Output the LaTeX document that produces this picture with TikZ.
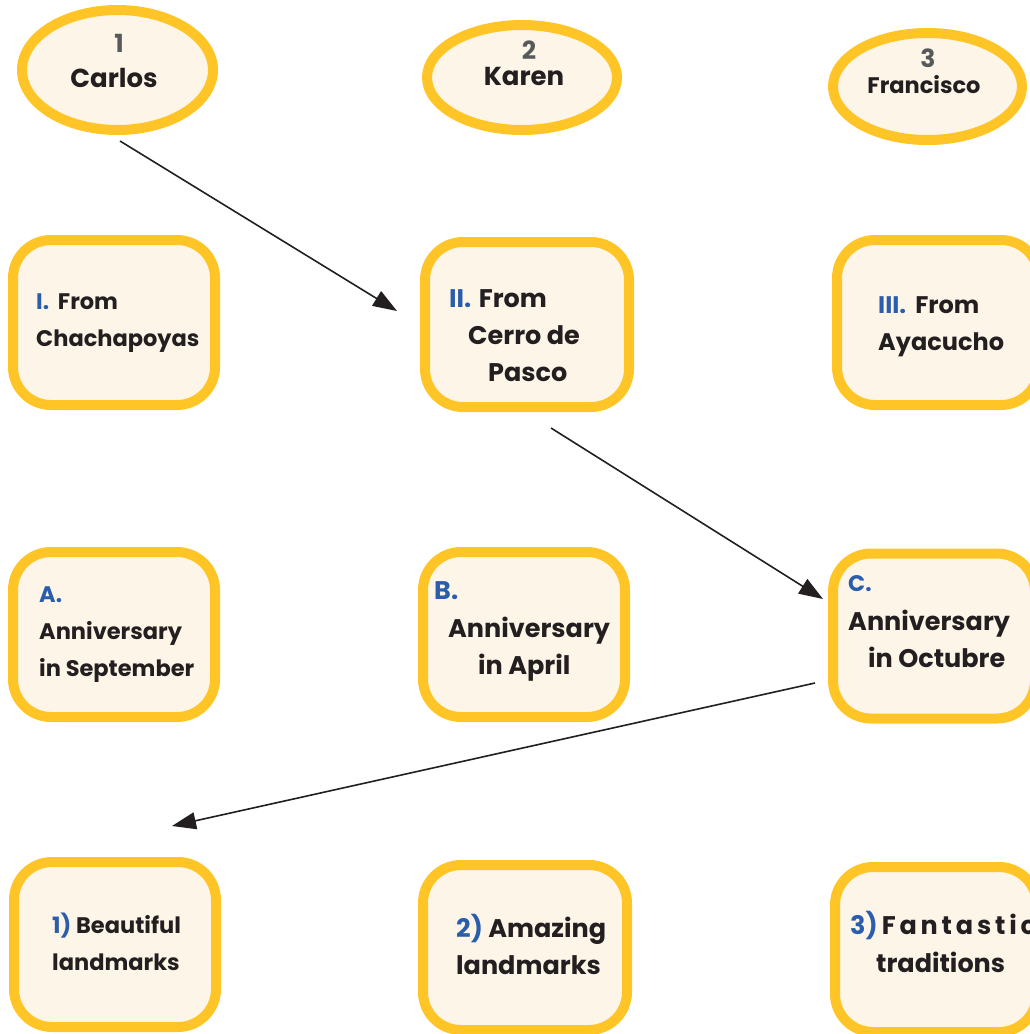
\documentclass[tikz,border=0pt]{standalone}
\usepackage{fontspec}
\setmainfont{Poppins}
\usetikzlibrary{arrows.meta,shapes.geometric}
\definecolor{ybord}{HTML}{FFC425}
\definecolor{cream}{HTML}{FDF6E8}
\definecolor{bl}{HTML}{2A5DAB}
\definecolor{ink}{HTML}{231F20}
\definecolor{numg}{HTML}{58595B}
\newfontfamily\spacedfont[LetterSpace=15]{Poppins}
\begin{document}
\begin{tikzpicture}[x=1pt,y=-1pt,
 card/.style={draw=ybord, fill=cream, line width=10pt, rounded corners=38pt, minimum width=202pt, minimum height=165pt, inner sep=0pt},
 oval/.style={ellipse, draw=ybord, fill=cream, line width=10pt, inner sep=0pt},
 bigtxt/.style={anchor=base west, inner sep=0pt, font=\fontsize{25.5}{30}\selectfont\bfseries, text=ink},
 smalltxt/.style={bigtxt, font=\fontsize{22.5}{28}\selectfont\bfseries},
 midtxt/.style={bigtxt, font=\fontsize{24}{28}\selectfont\bfseries},
 numtxt/.style={anchor=base, inner sep=0pt, font=\fontsize{25}{30}\selectfont\bfseries, text=numg},
 nametxt/.style={anchor=base, inner sep=0pt, font=\fontsize{26}{30}\selectfont\bfseries, text=ink},
 conn/.style={draw=ink, line width=1.6pt, -{Triangle[length=24pt,width=17pt]}}]
\useasboundingbox (0,0) rectangle (1030,1034);
\clip (0,0) rectangle (1030,1034);
% ellipses
\node[oval, minimum width=191pt, minimum height=120pt] (carlos) at (117.5,70) {};
\node[oval, minimum width=190pt, minimum height=105pt] (karen) at (522,77.5) {};
\node[oval, minimum width=189pt, minimum height=107pt] (francisco) at (927.5,86.5) {};
\node[numtxt] (n1) at (119,52) {1};
\node[nametxt] (t1) at (114,87) {Carlos};
\node[numtxt] (n2) at (529,59) {2};
\node[nametxt] (t2) at (524,85) {Karen};
\node[numtxt] (n3) at (928,67) {3};
\node[nametxt, font=\fontsize{22.5}{26}\selectfont\bfseries] (t3) at (924,93) {Francisco};
% row 2
\node[card] (bI) at (114,322.5) {};
\node[card, minimum width=204pt] (bII) at (527,324.5) {};
\node[card] (bIII) at (938,322.5) {};
\node[smalltxt] (bIa) at (36,309) {{\color{bl}I.}\hspace{4pt} From};
\node[smalltxt] (bIb) at (36,346) {Chachapoyas};
\node[bigtxt] (bIIa) at (449,307) {{\color{bl}II.}\hspace{2pt} From};
\node[bigtxt] (bIIb) at (468,344) {Cerro de};
\node[bigtxt] (bIIc) at (488,381) {Pasco};
\node[midtxt] (bIIIa) at (878,313) {{\color{bl}III.}\hspace{4pt} From};
\node[midtxt] (bIIIb) at (878,350) {Ayacucho};
% row 3
\node[card] (bA) at (114,634.5) {};
\node[card] (bB) at (524,634.5) {};
\node[card] (bC) at (934,636) {};
\node[smalltxt] (bAa) at (39,602) {\color{bl}A.};
\node[smalltxt] (bAb) at (39,639) {Anniversary};
\node[smalltxt] (bAc) at (39,676) {in September};
\node[bigtxt] (bBa) at (434,599) {\color{bl}B.};
\node[bigtxt] (bBb) at (448,637) {Anniversary};
\node[bigtxt] (bBc) at (478,674) {in April};
\node[smalltxt] (bCa) at (848,591) {\color{bl}C.};
\node[bigtxt] (bCb) at (848,630) {Anniversary};
\node[bigtxt] (bCc) at (868,667) {in Octubre};
% row 4
\node[card] (b1) at (115,944.5) {};
\node[card, minimum width=204pt] (b2) at (525,947.5) {};
\node[card] (b3) at (936,949.5) {};
\node[smalltxt] (b1a) at (52,933) {{\color{bl}1)} Beautiful};
\node[smalltxt] (b1b) at (52,970) {landmarks};
\node[bigtxt] (b2a) at (456,937) {{\color{bl}2)} Amazing};
\node[bigtxt] (b2b) at (456,974) {landmarks};
\node[bigtxt] (b3a) at (850,934) {{\color{bl}3)}\hspace{4pt}{\spacedfont Fantastic}};
\node[bigtxt] (b3b) at (876,972) {traditions};
% connectors
\coordinate (s1) at (120,141);
\coordinate (e1) at (397,311);
\coordinate (s2) at (551,428);
\coordinate (e2) at (823,599);
\coordinate (s3) at (815,683);
\coordinate (e3) at (172,826);
\draw[conn] (s1) -- (e1);
\draw[conn] (s2) -- (e2);
\draw[conn] (s3) -- (e3);
\end{tikzpicture}
\end{document}
